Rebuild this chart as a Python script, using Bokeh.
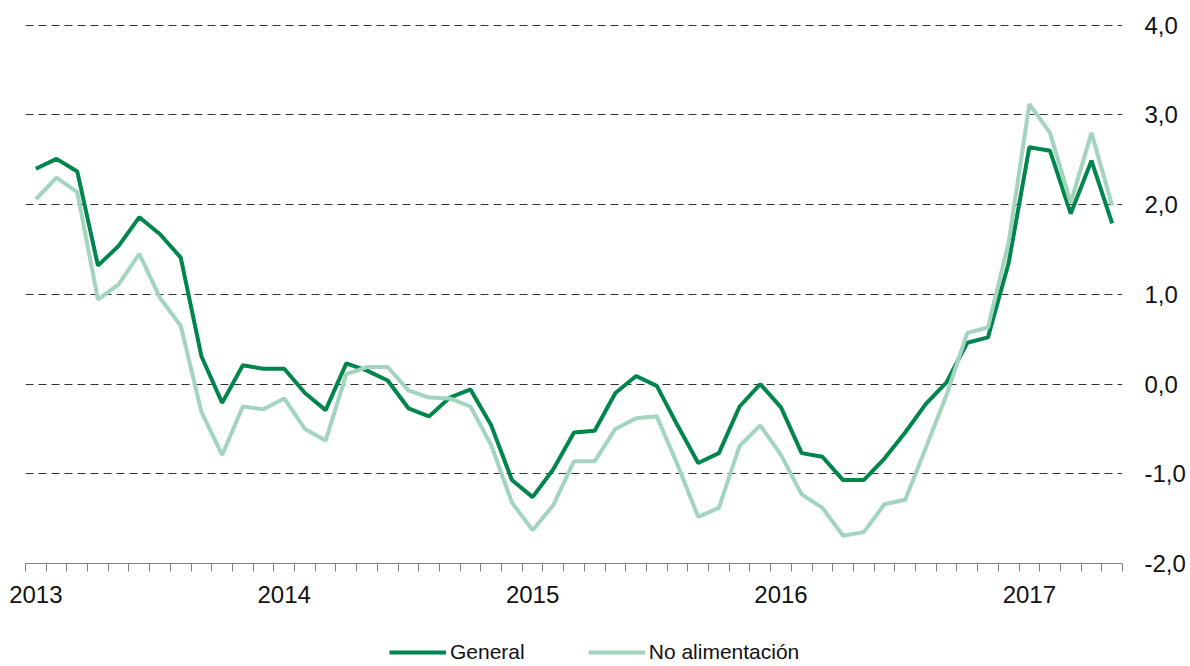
from bokeh.plotting import figure
from bokeh.layouts import column
from bokeh.models import FixedTicker, Legend, LegendItem, ColumnDataSource, CustomJSTickFormatter
from bokeh.embed import file_html
from bokeh.resources import INLINE

years = ["2013", "2014", "2015", "2016", "2017"]
series_names = ["General", "No alimentación"]
general = [2.40, 2.51, 2.37, 1.32, 1.54, 1.86, 1.67, 1.41, 0.31, -0.21,
           0.21, 0.17, 0.17, -0.10, -0.29, 0.23, 0.15, 0.04, -0.27, -0.36,
           -0.15, -0.06, -0.46, -1.07, -1.26, -0.95, -0.54, -0.52, -0.10, 0.09,
           -0.02, -0.46, -0.88, -0.77, -0.25, 0.00, -0.26, -0.77, -0.81, -1.07,
           -1.07, -0.83, -0.54, -0.22, 0.02, 0.46, 0.52, 1.35, 2.64, 2.60,
           1.90, 2.49, 1.79]
no_alim = [2.06, 2.30, 2.14, 0.94, 1.11, 1.45, 0.96, 0.65, -0.31, -0.79,
           -0.25, -0.28, -0.16, -0.50, -0.63, 0.11, 0.19, 0.19, -0.07, -0.15,
           -0.16, -0.25, -0.68, -1.32, -1.63, -1.35, -0.86, -0.86, -0.50, -0.38,
           -0.36, -0.90, -1.48, -1.38, -0.69, -0.46, -0.79, -1.23, -1.38, -1.69,
           -1.65, -1.34, -1.29, -0.71, -0.12, 0.57, 0.63, 1.58, 3.12, 2.80,
           2.02, 2.80, 1.99]
y_ticks = [-2, -1, 0, 1, 2, 3, 4]

n = len(general)
month_idx = list(range(n))
src = ColumnDataSource(dict(x=month_idx, general=general, no_alim=no_alim))

DARK = "#00864C"
LIGHT = "#A2D4BF"
FONT = "Liberation Sans"
W = 1188

p = figure(width=W, height=612, output_backend="svg", toolbar_location=None,
           x_range=(-0.5, n - 0.5), y_range=(-2, 4.03), y_axis_location="right",
           min_border_left=25, min_border_right=66, min_border_top=22,
           min_border_bottom=49)
p.outline_line_color = None
p.background_fill_color = "white"
p.border_fill_color = "white"

p.line("x", "general", source=src, line_color=DARK, line_width=4)
p.line("x", "no_alim", source=src, line_color=LIGHT, line_width=4)

# x axis
year_pos = [12 * i for i in range(len(years))]
xax = p.xaxis[0]
xax.ticker = FixedTicker(ticks=year_pos, minor_ticks=[i - 0.5 for i in range(n + 1)])
xax.formatter = CustomJSTickFormatter(args=dict(years=years),
                                      code="return years[Math.round(tick/12)];")
xax.major_tick_in = 0
xax.major_tick_out = 0
xax.minor_tick_in = 0
xax.minor_tick_out = 8
xax.minor_tick_line_color = "#808080"
xax.axis_line_color = "#808080"
xax.major_label_standoff = 14
xax.major_label_text_font = FONT
xax.major_label_text_font_size = "24px"
xax.major_label_text_color = "#111111"

# y axis
yax = p.yaxis[0]
yax.ticker = FixedTicker(ticks=y_ticks)
yax.formatter = CustomJSTickFormatter(code="return tick.toFixed(1).replace('.', ',');")
yax.axis_line_color = None
yax.major_tick_line_color = None
yax.minor_tick_line_color = None
yax.major_tick_in = 0
yax.major_tick_out = 0
yax.major_label_standoff = 22
yax.major_label_text_font = FONT
yax.major_label_text_font_size = "24px"
yax.major_label_text_color = "#111111"

p.xgrid.visible = False
p.ygrid.ticker = FixedTicker(ticks=[t for t in y_ticks if t > y_ticks[0]])
p.ygrid.grid_line_color = "#333333"
p.ygrid.grid_line_dash = "8 5"
p.ygrid.grid_line_width = 1

# legend strip below the chart (same series, plotted out of this strip's view)
lf = figure(width=W, height=52, output_backend="svg", toolbar_location=None,
            x_range=(-0.5, n - 0.5), y_range=(100, 101),
            min_border_left=0, min_border_right=0, min_border_top=0, min_border_bottom=0)
lf.axis.visible = False
lf.grid.visible = False
lf.outline_line_color = None
lf.border_fill_color = "white"
l_gen = lf.line("x", "general", source=src, line_color=DARK, line_width=4)
l_no = lf.line("x", "no_alim", source=src, line_color=LIGHT, line_width=4)

legend = Legend(items=[LegendItem(label=series_names[0], renderers=[l_gen]),
                       LegendItem(label=series_names[1], renderers=[l_no])],
                location=(364, 0), orientation="horizontal",
                border_line_color=None, background_fill_alpha=0,
                padding=0, margin=0, glyph_width=57, glyph_height=20,
                label_standoff=4, spacing=63,
                label_text_font=FONT, label_text_font_size="21px",
                label_text_color="#111111")
lf.add_layout(legend, "center")

layout = column(p, lf, spacing=0)
open("out.html", "w").write(file_html(layout, INLINE))
